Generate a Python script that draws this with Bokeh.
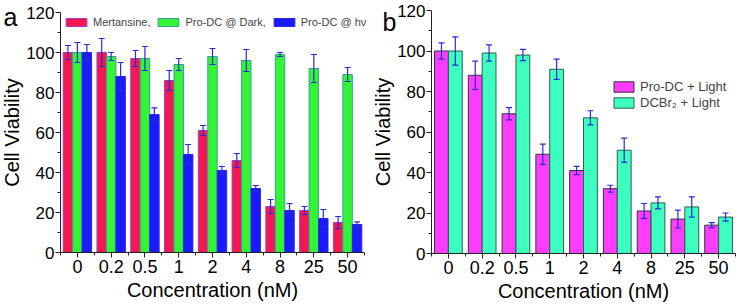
import numpy as np
from bokeh.plotting import figure
from bokeh.models import (Range1d, FixedTicker, ColumnDataSource, Whisker, TeeHead,
                          Legend, LegendItem, Label)
from bokeh.layouts import row
from bokeh.embed import file_html
from bokeh.resources import INLINE

# ---------------- data ----------------
concentrations = ["0", "0.2", "0.5", "1", "2", "4", "8", "25", "50"]

mertansine = [100, 100, 97, 86, 61, 46, 23, 21, 15]
mertansine_err = [3.5, 7, 4, 5, 2.5, 3.5, 3.5, 2, 3]
prodc_dark = [100, 98, 97, 94, 98, 96, 99, 92, 89]
prodc_dark_err = [5, 2, 6, 3, 4, 5.5, 1, 7, 3.5]
prodc_hv = [100, 88, 69, 49, 41, 32, 21, 17, 14]
prodc_hv_err = [4, 7, 3.3, 5, 2, 1.5, 3.5, 4.5, 1.3]

prodc_light = [100, 88, 69, 49, 41, 32, 21, 17, 14]
prodc_light_err = [4, 7, 3, 5, 2, 1.7, 3.7, 4.4, 1.2]
dcbr2_light = [100, 99, 98, 91, 67, 51, 25, 23, 18]
dcbr2_light_err = [7, 4, 2.8, 5, 3.5, 6, 3, 5, 2]

y_ticks = [0, 20, 40, 60, 80, 100, 120]
y_minor = [10, 30, 50, 70, 90, 110]
Y_MAX = 120

FONT = "Liberation Sans"
ERR_COLOR = "#2a2ad6"

n = len(concentrations)
centers = [i + 0.5 for i in range(n)]
bounds = [float(i) for i in range(n + 1)]
H = 306


def make_fig(width, ax_left, ax_right, ax_top, ax_bottom):
    """ax_* : pixel positions (in the figure canvas) of the axes box."""
    kx = n / (ax_right - ax_left)            # data units per pixel (x)
    ky = Y_MAX / (ax_bottom - ax_top)        # data units per pixel (y)
    x_range = Range1d(-ax_left * kx, n + (width - ax_right) * kx)
    y_range = Range1d(-(H - ax_bottom) * ky, Y_MAX + ax_top * ky)
    p = figure(width=width, height=H, x_range=x_range, y_range=y_range,
               output_backend="svg", toolbar_location=None, min_border=0)
    p.outline_line_color = None
    p.grid.visible = False
    p.background_fill_color = "white"
    p.border_fill_color = "white"

    xa = p.xaxis[0]
    xa.fixed_location = 0
    xa.bounds = (0, n)
    xa.ticker = FixedTicker(ticks=centers, minor_ticks=bounds)
    xa.major_label_overrides = {c: lab for c, lab in zip(centers, concentrations)}
    xa.axis_label = "Concentration (nM)"
    xa.major_label_text_font_size = "18px"
    xa.major_label_standoff = 2
    xa.axis_label_standoff = 3

    ya = p.yaxis[0]
    ya.fixed_location = 0
    ya.bounds = (0, Y_MAX)
    ya.ticker = FixedTicker(ticks=y_ticks, minor_ticks=y_minor)
    ya.axis_label = "Cell Viability"
    ya.major_label_text_font_size = "17px"
    ya.major_label_standoff = 1
    ya.axis_label_standoff = 0

    for ax in (xa, ya):
        ax.axis_line_color = "#222222"
        ax.major_tick_line_color = "#222222"
        ax.minor_tick_line_color = "#222222"
        ax.major_tick_in = 0
        ax.major_tick_out = 5
        ax.minor_tick_in = 0
        ax.minor_tick_out = 3
        ax.major_label_text_font = FONT
        ax.major_label_text_color = "black"
        ax.axis_label_text_font = FONT
        ax.axis_label_text_font_size = "20px"
        ax.axis_label_text_font_style = "normal"
        ax.axis_label_text_color = "black"
    return p


def add_bars(p, offset, width, values, errs, fill, line):
    xs = [c + offset for c in centers]
    src = ColumnDataSource(dict(
        x=xs, top=values,
        upper=[v + e for v, e in zip(values, errs)],
        lower=[v - e for v, e in zip(values, errs)],
    ))
    r = p.vbar(x="x", top="top", width=width, bottom=0, source=src,
               fill_color=fill, line_color=line, line_width=1, level="underlay")
    w = Whisker(base="x", upper="upper", lower="lower", source=src,
                dimension="height", line_color=ERR_COLOR, line_width=1.2,
                upper_head=TeeHead(size=6, line_color=ERR_COLOR, line_width=1.2),
                lower_head=TeeHead(size=6, line_color=ERR_COLOR, line_width=1.2))
    p.add_layout(w)
    return r


# ---------------- panel a ----------------
pa = make_fig(371, 60, 364, 12, 252)
bw = 0.28
r1 = add_bars(pa, -bw, bw, mertansine, mertansine_err, "#f5174f", "#9a3fc0")
r2 = add_bars(pa, 0.0, bw, prodc_dark, prodc_dark_err, "#33f533", "#3a9aa0")
r3 = add_bars(pa, bw, bw, prodc_hv, prodc_hv_err, "#1a1aff", "#2a2ae0")

leg_a = Legend(items=[LegendItem(label="Mertansine,", renderers=[r1]),
                      LegendItem(label="Pro-DC @ Dark,", renderers=[r2]),
                      LegendItem(label="Pro-DC @ h\u03bd", renderers=[r3])],
               orientation="horizontal", location=(63, 278),
               glyph_width=26, glyph_height=10, label_height=10,
               label_standoff=4, spacing=5, padding=0, margin=0,
               label_text_font=FONT, label_text_font_size="11px",
               border_line_color=None, background_fill_alpha=0)
pa.add_layout(leg_a)
pa.add_layout(Label(x=3, y=16, x_units="canvas", y_units="canvas", text="a",
                    text_baseline="alphabetic",
                    text_font=FONT, text_font_size="25px", text_color="black"))

# ---------------- panel b ----------------
pb = make_fig(367, 60, 364, 10, 253)
bw2 = 0.41
s1 = add_bars(pb, -bw2 / 2, bw2, prodc_light, prodc_light_err, "#ff3dff", "#333333")
s2 = add_bars(pb, bw2 / 2, bw2, dcbr2_light, dcbr2_light_err, "#3dffbf", "#2f5f50")

leg_b = Legend(items=[LegendItem(label="Pro-DC + Light", renderers=[s1]),
                      LegendItem(label="DCBr\u2082 + Light", renderers=[s2])],
               orientation="vertical", location=(240, 196),
               glyph_width=25, glyph_height=13, label_height=13,
               label_standoff=4, spacing=1, padding=0, margin=0,
               label_text_font=FONT, label_text_font_size="13px",
               border_line_color=None, background_fill_alpha=0)
pb.add_layout(leg_b)
pb.add_layout(Label(x=11, y=21, x_units="canvas", y_units="canvas", text="b",
                    text_baseline="alphabetic",
                    text_font=FONT, text_font_size="25px", text_color="black"))

layout = row(pa, pb)
open("out.html", "w").write(file_html(layout, INLINE))
